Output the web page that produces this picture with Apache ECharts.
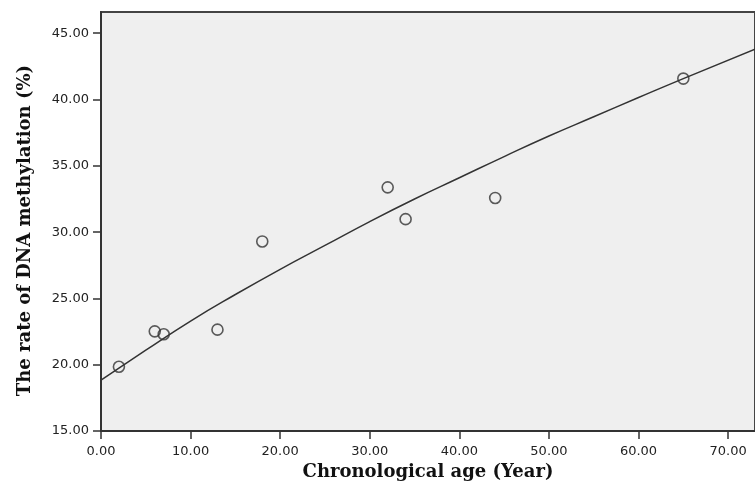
<!DOCTYPE html>
<html>
<head>
<meta charset="utf-8">
<script src="https://cdn.jsdelivr.net/npm/echarts@6/dist/echarts.min.js"></script>
<style>
html,body{margin:0;padding:0;background:#fff;}
#chart{width:755px;height:486px;}
</style>
</head>
<body>
<div id="chart"></div>
<script>
// Observed data points
var ages = [2, 6, 7, 13, 18, 32, 34, 44, 65];
var rates = [19.85, 22.52, 22.3, 22.65, 29.3, 33.38, 30.98, 32.58, 41.58];

// Fitted curve
var fitAges = [0, 5, 10, 15, 20, 25, 30, 35, 40, 45, 50, 55, 60, 65, 73];
var fitRates = [18.85, 21.1, 23.3, 25.3, 27.2, 29.0, 30.8, 32.5, 34.1, 35.7, 37.25, 38.7, 40.15, 41.58, 43.8];

// Tick labels
var xTicks = [0, 10, 20, 30, 40, 50, 60, 70];
var yTicks = [15, 20, 25, 30, 35, 40, 45];

var xTitle = 'Chronological age (Year)';
var yTitle = 'The rate of DNA methylation (%)';

var points = ages.map(function (a, i) { return [a, rates[i]]; });
var fit = fitAges.map(function (a, i) { return [a, fitRates[i]]; });

var chart = echarts.init(document.getElementById('chart'), null, {renderer: 'canvas'});
var labelStyle = {color: '#222', fontFamily: 'DejaVu Sans', fontSize: 13};
var titleStyle = {color: '#111', fontFamily: 'DejaVu Serif', fontWeight: 'bold', fontSize: 18};

chart.setOption({
  animation: false,
  backgroundColor: '#fff',
  grid: {
    left: 101, top: 12, right: -2, bottom: 53,
    show: true, backgroundColor: '#efefef', borderColor: '#444', borderWidth: 2
  },
  xAxis: {
    type: 'value', min: 0, max: 73,
    name: xTitle, nameLocation: 'middle', nameGap: 31, nameTextStyle: titleStyle,
    splitLine: {show: false},
    axisLine: {show: true, onZero: false, lineStyle: {color: '#333', width: 2}},
    axisTick: {show: true, length: 8, lineStyle: {color: '#333', width: 1.5}, customValues: xTicks},
    axisLabel: Object.assign({margin: 14, customValues: xTicks, formatter: function (v) { return v.toFixed(2); }}, labelStyle)
  },
  yAxis: {
    type: 'value', min: 15, max: 46.6,
    name: yTitle, nameLocation: 'middle', nameGap: 67,
    nameTextStyle: Object.assign({padding: [0, 18, 0, 0]}, titleStyle),
    splitLine: {show: false},
    axisLine: {show: true, onZero: false, lineStyle: {color: '#333', width: 2}},
    axisTick: {show: true, length: 8, lineStyle: {color: '#333', width: 1.5}, customValues: yTicks},
    axisLabel: Object.assign({margin: 12, customValues: yTicks, formatter: function (v) { return v.toFixed(2); }}, labelStyle)
  },
  series: [
    {
      type: 'line', data: fit, smooth: true, showSymbol: false, clip: true,
      lineStyle: {color: '#333', width: 1.5}, z: 2
    },
    {
      type: 'scatter', data: points, symbol: 'circle', symbolSize: 11,
      itemStyle: {color: 'rgba(0,0,0,0)', borderColor: '#333', borderWidth: 1.6}, z: 3
    }
  ]
});
</script>
</body>
</html>
